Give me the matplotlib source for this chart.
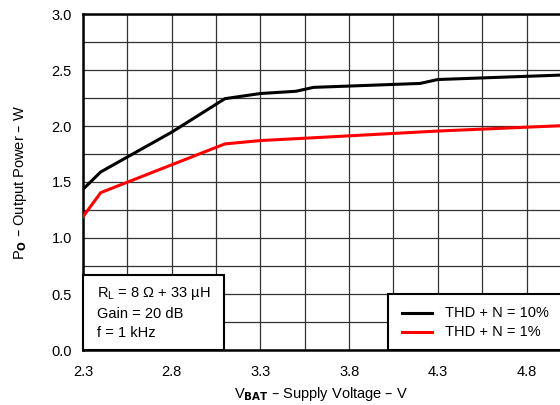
import matplotlib
matplotlib.use("Agg")
import matplotlib.pyplot as plt
from matplotlib.patches import Rectangle
import numpy as np

plt.rcParams['font.family'] = ['Liberation Sans', 'DejaVu Sans']

v_10 = [2.3, 2.4, 2.8, 3.1, 3.3, 3.5, 3.6, 4.2, 4.3, 5.0, 5.5]
p_10 = [1.435, 1.59, 1.945, 2.244, 2.29, 2.31, 2.345, 2.38, 2.415, 2.455, 2.48]
v_1 = [2.3, 2.4, 3.1, 3.3, 3.6, 4.3, 5.0, 5.5]
p_1 = [1.19, 1.405, 1.84, 1.87, 1.895, 1.955, 2.003, 2.03]

x_ticks = [2.3, 2.8, 3.3, 3.8, 4.3, 4.8]
y_ticks = [0.0, 0.5, 1.0, 1.5, 2.0, 2.5, 3.0]
labels = ["THD + N = 10%", "THD + N = 1%"]
colors = ["black", "#ff0000"]

FS = 10.5

fig = plt.figure(figsize=(5.6, 4.05), dpi=100)
ax = fig.add_axes([83/560, 1-350/405, 1-83/560, (350-14)/405])
ax.set_xlim(2.3, 2.3 + (560-83)/177.4)
ax.set_ylim(0, 3.0)

ax.plot(v_10, p_10, color=colors[0], lw=2.2, zorder=3)
ax.plot(v_1, p_1, color=colors[1], lw=2.2, zorder=3)

ax.set_xticks(x_ticks)
ax.set_xticks(np.array(x_ticks[:-1]) + 0.25, minor=True)
ax.set_yticks(y_ticks)
ax.set_yticks(np.array(y_ticks[:-1]) + 0.25, minor=True)
ax.set_yticklabels([f"{t:.1f}" for t in y_ticks])
ax.set_xticklabels([f"{t:.1f}" for t in x_ticks])
ax.tick_params(which='both', length=0, labelsize=FS)
ax.tick_params(axis='x', pad=11)
ax.tick_params(axis='y', pad=8)
ax.grid(True, which='both', color='#333333', lw=0.9)
for s in ['top', 'left', 'bottom']:
    ax.spines[s].set_linewidth(1.8)
ax.spines['right'].set_visible(False)

ax.set_xlabel(r"V$_{\mathbf{BAT}}$ – Supply Voltage – V", fontsize=FS, labelpad=4)
ax.set_ylabel(r"P$_{\mathbf{O}}$ – Output Power – W", fontsize=FS, labelpad=16)

# condition box
bw = (224-83)/477
bh = (350-275)/336
ax.add_patch(Rectangle((0, 0), bw, bh, transform=ax.transAxes, facecolor='white',
                       edgecolor='black', lw=1.5, zorder=4, clip_on=False))
cond = [r"R$_\mathregular{L}$ = 8 Ω + 33 µH", "Gain = 20 dB", "f = 1 kHz"]
for i, t in enumerate(cond):
    ax.text((97-83)/477, (350-(294 + 19.5*i))/336, t, transform=ax.transAxes,
            fontsize=FS, va='center', ha='left', zorder=5)

# legend box
lx0 = (388-83)/477
lh = (350-294)/336
ax.add_patch(Rectangle((lx0, 0), 1.0, lh, transform=ax.transAxes, facecolor='white',
                       edgecolor='black', lw=1.5, zorder=4, clip_on=True))
for i, (lab, c) in enumerate(zip(labels, colors)):
    yy = (350-(312.7 + 19*i))/336
    ax.plot([(402-83)/477, (432-83)/477], [yy, yy], transform=ax.transAxes,
            color=c, lw=2.2, zorder=5, clip_on=False)
    ax.text((445-83)/477, yy, lab, transform=ax.transAxes, fontsize=FS,
            va='center', ha='left', zorder=5)

fig.savefig("out.png", dpi=100)
